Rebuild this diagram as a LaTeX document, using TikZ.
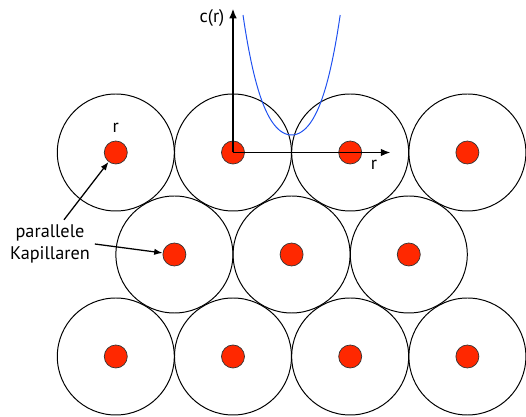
\documentclass[tikz,border=0pt]{standalone}
\usepackage{fontspec}
\setmainfont{PT Sans}
\usetikzlibrary{arrows.meta, positioning}
\definecolor{capred}{RGB}{255,40,0}
\definecolor{curveblue}{RGB}{30,80,240}

\begin{document}
\begin{tikzpicture}[every node/.style={font=\fontsize{13pt}{15.6pt}\selectfont},
		cell/.style={draw, circle, line width=0.7pt, minimum size=2.925cm, inner sep=0pt},
		capillary/.style={draw=black!80, fill=capred, circle, line width=0.5pt, minimum size=0.575cm, inner sep=0pt},
		axis/.style={-{Latex[length=7pt,width=5.5pt]}, line width=1.3pt}]
			\useasboundingbox (-5.825,-6.6125) rectangle (7.325,3.8125);
			
			% Cells (hexagonal packing)
			\foreach \x/\n in {-2.93/1, 0/2, 2.93/3, 5.86/4} {
				\node[cell] (c-1-\n) at (\x,0) {};
				\node[cell] (c-3-\n) at (\x,-5.1) {};
			}
			\foreach \x/\n in {-1.465/1, 1.465/2, 4.395/3} {
				\node[cell] (c-2-\n) at (\x,-2.55) {};
			}
			
			% Capillaries
			\foreach \x/\n in {-2.93/1, 0/2, 2.93/3, 5.86/4} {
				\node[capillary] (p-1-\n) at (\x,0) {};
				\node[capillary] (p-3-\n) at (\x,-5.1) {};
			}
			\foreach \x/\n in {-1.465/1, 1.465/2, 4.395/3} {
				\node[capillary] (p-2-\n) at (\x,-2.55) {};
			}
			
			% Concentration profile
			\draw[curveblue, line width=0.7pt] plot[domain=-1.215:1.215, samples=60, smooth]
				({1.465+\x},{0.4375+1.262*\x*\x+0.522*\x*\x*\x*\x});
			
			% Axes
			\coordinate (ytop) at (0,3.6);
			\coordinate (xend) at (3.94,0);
			\draw[axis] (p-1-2.center) -- (ytop);
			\draw[axis] (p-1-2.center) -- (xend);
			\node (clabel) at (-0.525,3.36) {c(r)};
			\node (rlabel) at (3.525,-0.31) {r};
			
			% Labels
			\node[above=2pt of p-1-1] (radius) {r};
			\node[align=center] (lbl) at (-4.575,-2.2875) {parallele\\Kapillaren};
			\draw[-{Latex[length=6pt,width=4.5pt]}, line width=0.9pt] (lbl.60) -- (p-1-1);
			\draw[-{Latex[length=6pt,width=4.5pt]}, line width=0.9pt] (lbl.east) -- (p-2-1);
		\end{tikzpicture}
\end{document}
